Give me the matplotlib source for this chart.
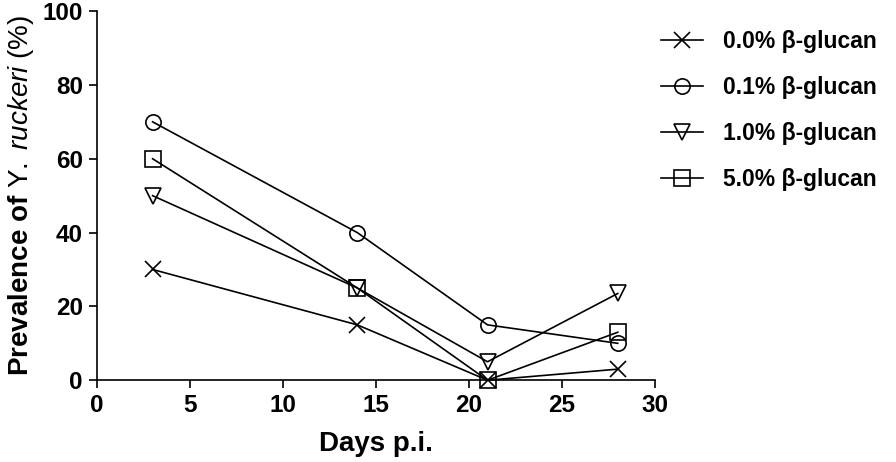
import matplotlib
matplotlib.use("Agg")
import matplotlib.pyplot as plt

days = [3, 14, 21, 28]
g00 = [30, 15, 0, 3]
g01 = [70, 40, 15, 10]
g10 = [50, 25, 5, 23.5]
g50 = [60, 25, 0, 13]

labels = ["0.0% β-glucan", "0.1% β-glucan", "1.0% β-glucan", "5.0% β-glucan"]
markers = ["x", "o", "v", "s"]

plt.rcParams["font.family"] = ["Liberation Sans", "DejaVu Sans"]
plt.rcParams["mathtext.fontset"] = "custom"
plt.rcParams["mathtext.rm"] = "Liberation Sans:normal"
plt.rcParams["mathtext.it"] = "Liberation Sans:italic:normal"

fig = plt.figure(figsize=(8.96, 4.62), dpi=100)
ax = fig.add_axes([0.108, 0.177, 0.623, 0.799])

for ys, m, lab in zip([g00, g01, g10, g50], markers, labels):
    ax.plot(days, ys, color="black", lw=1.2, marker=m, ms=11,
            mfc="none", mec="black", mew=1.2, label=lab, clip_on=False)

ax.set_xlim(0, 30)
ax.set_ylim(0, 100)
ax.set_xticks([0, 5, 10, 15, 20, 25, 30])
ax.set_yticks([0, 20, 40, 60, 80, 100])
ax.tick_params(labelsize=17.5, width=1.2, length=6, direction="out", pad=4)
for lab in ax.get_xticklabels() + ax.get_yticklabels():
    lab.set_fontweight("bold")
ax.spines["top"].set_visible(False)
ax.spines["right"].set_visible(False)
ax.spines["left"].set_linewidth(1.2)
ax.spines["bottom"].set_linewidth(1.2)

ax.set_xlabel("Days p.i.", fontsize=20, fontweight="bold", labelpad=10)
ax.set_ylabel(r"Prevalence of $\mathrm{Y.}$ $\mathit{ruckeri}$ $\mathrm{(\%)}$",
              fontsize=20, fontweight="bold", labelpad=5)

fig.legend(loc="upper left", bbox_to_anchor=(0.715, 0.98), frameon=False,
           prop={"size": 16.5, "weight": "bold"}, labelspacing=1.0,
           handlelength=1.8, handletextpad=0.9)

plt.savefig("out.png", dpi=100)
